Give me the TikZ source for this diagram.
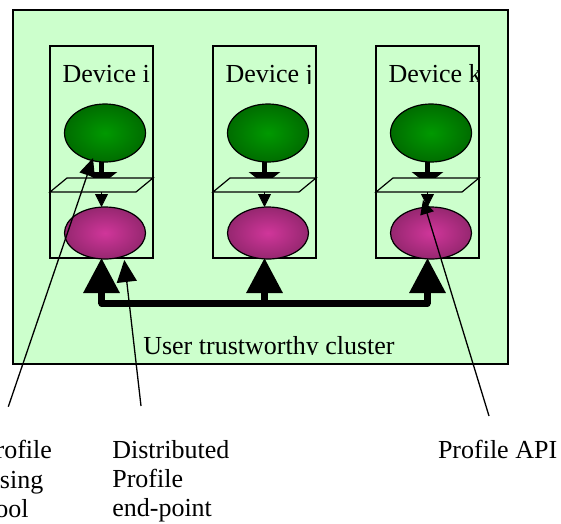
\documentclass[tikz,border=0pt]{standalone}
\usepackage{fontspec}
\setmainfont{Liberation Serif}
\usetikzlibrary{arrows.meta,shapes.geometric}
\definecolor{bg}{HTML}{CCFFCC}
\definecolor{gin}{HTML}{009900}
\definecolor{gout}{HTML}{004000}
\definecolor{pin}{HTML}{D0369A}
\definecolor{pout}{HTML}{5C1846}
\pgfdeclareradialshading{greenball}{\pgfpoint{0bp}{0bp}}{color(0bp)=(gin); color(50bp)=(gout); color(75bp)=(gout)}
\pgfdeclareradialshading{purpleball}{\pgfpoint{0bp}{0bp}}{color(0bp)=(pin); color(50bp)=(pout); color(75bp)=(pout)}
\begin{document}
\begin{tikzpicture}[x=1pt,y=-1pt,
  every node/.style={outer sep=0pt},
  frame/.style={draw=black, line width=1.2pt, inner sep=0pt},
  devbox/.style={draw=black, line width=1.2pt, minimum width=103pt, minimum height=212pt, inner sep=0pt},
  gball/.style={ellipse, draw=black, line width=1.2pt, shading=greenball, minimum width=81pt, minimum height=58pt, inner sep=0pt},
  pball/.style={ellipse, draw=black, line width=1.2pt, shading=purpleball, minimum width=81pt, minimum height=52pt, inner sep=0pt},
  plate/.style={draw=black, line width=1.2pt, fill=bg},
  lab/.style={font=\fontsize{26}{29.2}\selectfont, inner sep=0pt, anchor=base west},
  notetext/.style={font=\fontsize{26}{29.2}\selectfont, inner sep=0pt, anchor=north west, align=left},
  stem/.style={line width=5.5pt, -{Triangle[width=31pt,length=12.4pt]}},
  drop/.style={line width=0.8pt, -{Triangle[width=13pt,length=13pt]}},
  bus/.style={line width=6.5pt},
  bigtip/.style={-{Triangle[width=35pt,length=35pt]}},
  pointer/.style={line width=1.3pt}
]
\useasboundingbox (0,0) rectangle (561,523);
% cluster
\node[frame, fill=bg, minimum width=495pt, minimum height=354pt] (cluster) at (260.5,187) {};
\foreach \i/\X/\t in {1/101.5/Device i, 2/264.5/Device j, 3/427.5/Device k} {
  \node[devbox] (dev\i) at (\X,152) {};
  \begin{scope}
    \clip (\X-51.5,46) rectangle (\X+51.5,83);
    \node[lab] (name\i) at (\X-39,82.7) {\t};
  \end{scope}
  \node[gball] (g\i) at (\X+3.5,133) {};
  \node[pball] (p\i) at (\X+3.5,233) {};
  \coordinate (ptip\i) at (\X,184.4);
  \coordinate (pbot\i) at (\X,192);
  \draw[stem] (dev\i.center |- g\i.south) -- (ptip\i);
  \draw[plate] (\X-51.5,192) -- (\X-34.5,178) -- (\X+51.5,178) -- (\X+34.5,192) -- cycle;
  \draw[drop] (pbot\i) -- (pbot\i |- p\i.north);
  \coordinate (b\i) at (\X,303.5);
  \draw[bus, bigtip] (b\i) -- (dev\i.south);
}
\draw[bus, line cap=round] (b1) -- (b3);
% cluster label
\begin{scope}
  \clip (13,10) rectangle (508,354.4);
  \node[lab] (clusterlabel) at (143.3,354) {User trustworthy cluster};
\end{scope}
% pointers
\coordinate (n1a) at (8.3,406.7);
\coordinate (n1b) at (93,158);
\coordinate (n2a) at (141,406);
\coordinate (n2b) at (124.3,260);
\coordinate (n3a) at (489,416);
\coordinate (n3b) at (423,200);
\draw[pointer, -{Triangle[width=16pt,length=18pt]}] (n1a) -- (n1b);
\draw[pointer, -{Triangle[width=20pt,length=22pt]}] (n2a) -- (n2b);
\draw[pointer, -{Triangle[width=14pt,length=14pt]}] (n3a) -- (n3b);
% notes
\node[notetext] (t1) at (-18.8,440.5) {Profile\\Using\\Tool};
\node[notetext] (t2) at (112.3,440.5) {Distributed\\Profile\\end-point};
\node[notetext] (t3) at (438,440.5) {Profile API};
\end{tikzpicture}
\end{document}
